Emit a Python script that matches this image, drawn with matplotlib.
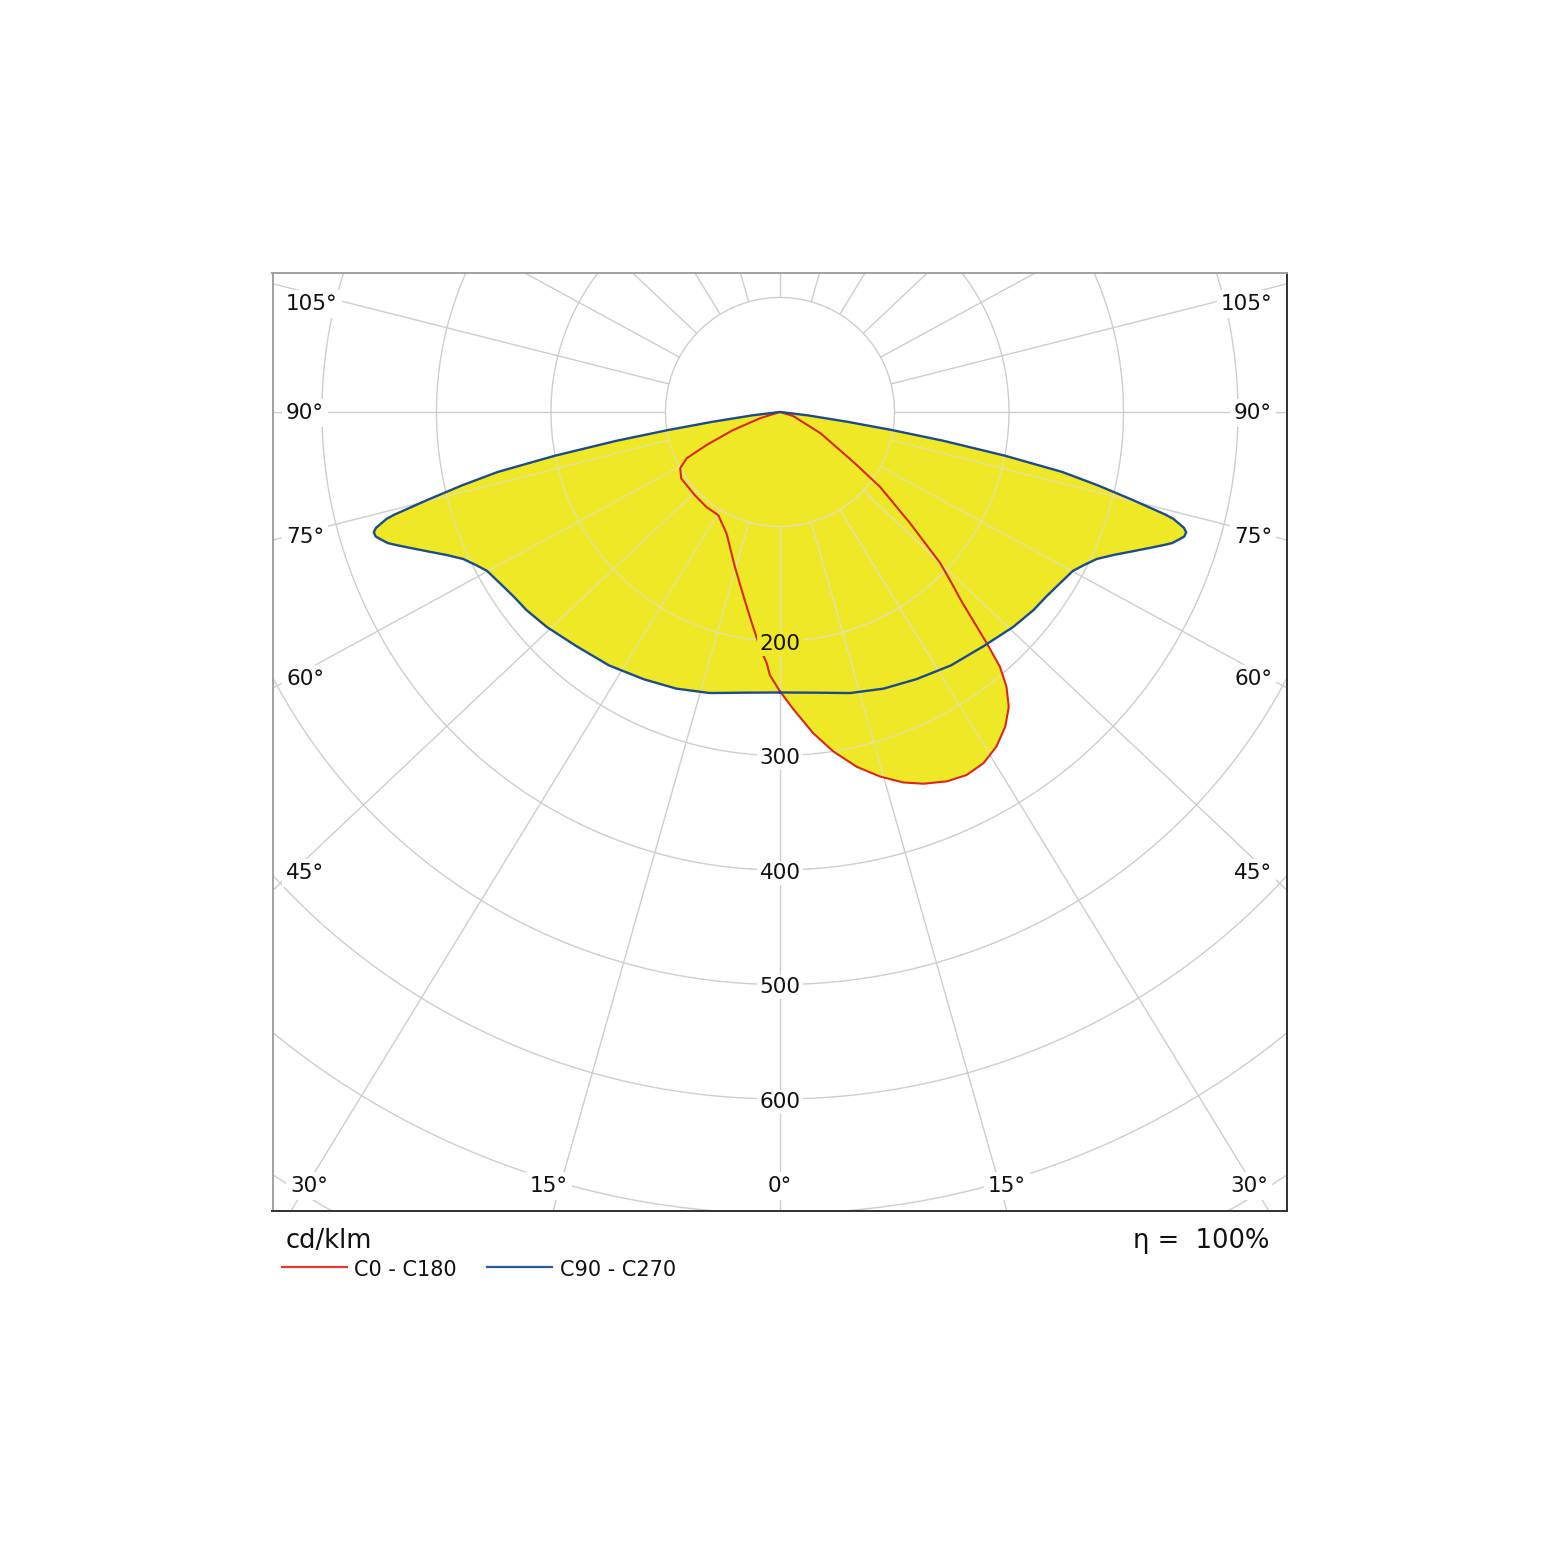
import numpy as np
import matplotlib.pyplot as plt
from matplotlib.collections import LineCollection
from matplotlib.lines import Line2D

plt.rcParams['font.family'] = ['DejaVu Sans']

# luminous intensity, cd/klm, gamma in degrees (0 = straight down)
# C90 - C270 plane (symmetric, blue)
gamma_c90 = [0, 7, 14, 20.5, 27, 34, 41, 47.3, 52, 55.3, 58, 61.5, 63.2, 65.1, 66.8,
             68.2, 69.6, 70.9, 71.5, 72.3, 72.9, 73.5, 74.0, 74.8, 75.1, 76, 77, 78,
             79, 80, 80.8, 81.7, 83, 86]
cd_c90 = [245, 247, 253, 258, 262, 267, 271, 277, 281, 283, 286, 291, 297, 305, 317,
          329, 342, 355, 361, 366, 369.5, 370, 367, 356, 348, 317, 285, 252,
          200, 145, 100, 60, 25, 0]

# C0 plane (right half of red curve)
gamma_c0 = [0, 2.6, 5.9, 8.9, 12.2, 15.3, 18.4, 21.1, 24.3, 27.2, 30.1, 32.9, 35.6,
            37.8, 39.5, 40.8, 41.8, 43.8, 45.3, 46.7, 49.5, 53.2, 55.8, 62.3, 72.9, 80]
cd_c0 = [244, 260, 282, 300, 317, 330, 341, 348, 354, 356.5, 354.5, 348, 338,
         326, 311, 294, 271, 229, 209, 192, 149, 109, 77, 40, 12, 0]

# C180 plane (left half of red curve)
gamma_c180 = [0, 2.2, 3, 4.9, 7.6, 11.2, 16.2, 23.7, 30.9, 37.7, 45.7, 56, 60.6, 63.6,
              65.8, 68.9, 72.5, 80]
cd_c180 = [244, 230, 220, 206, 186, 164, 141, 116, 105, 105, 104, 104, 100, 91,
           70, 44, 18, 0]

rings = [100, 200, 300, 400, 500, 600, 700, 800]
ring_labels = [200, 300, 400, 500, 600]
spoke_angles = list(range(0, 181, 15))

W, H = 1560, 1561
YELLOW = '#eee827'
RED = '#d8281c'
BLUE = '#1d4b8a'
FS = 15.5


def to_xy(gamma, cd, side):
    g = np.deg2rad(np.asarray(gamma, dtype=float))
    cd = np.asarray(cd, dtype=float)
    return side * cd * np.sin(g), -cd * np.cos(g)


def px(x, y):
    return x / W, 1 - y / H


fig = plt.figure(figsize=(W / 100, H / 100), dpi=100)
ax = fig.add_axes([272.5 / W, (H - 1211.3) / H, 1014.5 / W, 938 / H])
ax.set_xlim(-443.2, 442.8)
ax.set_ylim(-698.1, 121.1)
ax.set_xticks([])
ax.set_yticks([])
for s in ['top', 'left']:
    ax.spines[s].set_color('#a0a0a0')
for s in ['bottom', 'right']:
    ax.spines[s].set_color('#303030')
for s in ax.spines.values():
    s.set_linewidth(1.4)

# polar grid
segs = []
t = np.linspace(0, 2 * np.pi, 721)
for r in rings:
    segs.append(np.column_stack([r * np.cos(t), r * np.sin(t)]))
k = 1.06  # spokes in the source drawing are slightly splayed
for a in spoke_angles:
    th = np.deg2rad(a)
    phi = np.arctan2(k * np.sin(th), np.cos(th))
    sides = [1] if a in (0, 180) else [1, -1]
    for sd in sides:
        segs.append(np.array([[sd * 100 * np.sin(phi), -100 * np.cos(phi)],
                              [sd * 1400 * np.sin(phi), -1400 * np.cos(phi)]]))
ax.add_collection(LineCollection(segs, colors='#cdcdcd', linewidths=1.0, zorder=1))

# curves
xr, yr = to_xy(gamma_c90, cd_c90, 1)
xl, yl = to_xy(gamma_c90, cd_c90, -1)
xb = np.concatenate([xr, xl[::-1]])
yb = np.concatenate([yr, yl[::-1]])

xr0, yr0 = to_xy(gamma_c0, cd_c0, 1)
xl0, yl0 = to_xy(gamma_c180, cd_c180, -1)
xrd = np.concatenate([xr0, xl0[::-1]])
yrd = np.concatenate([yr0, yl0[::-1]])

polys = []
polys += ax.fill(xb, yb, color=YELLOW, lw=0, zorder=2)
polys += ax.fill(xrd, yrd, color=YELLOW, lw=0, zorder=2)
for p in polys:
    lc = LineCollection(segs, colors='#e6e19c', linewidths=1.0, zorder=3)
    ax.add_collection(lc)
    lc.set_clip_path(p)

ax.plot(xrd, yrd, color=RED, lw=1.5, zorder=4, solid_joinstyle='round')
ax.plot(xb, yb, color=BLUE, lw=1.7, zorder=4, solid_joinstyle='round')

# ring labels
for r in ring_labels:
    fc = YELLOW if r == 200 else 'white'
    ax.text(0, -r - 2.5, str(r), ha='center', va='center', fontsize=FS,
            color='#111111', zorder=6,
            bbox=dict(boxstyle='square,pad=0.1', fc=fc, ec='none'))

# angle labels
lab_box = dict(boxstyle='square,pad=0.18', fc='white', ec='none')
side_labels = [('105°', 304), ('90°', 413), ('75°', 537), ('60°', 679), ('45°', 873)]
for txt, y in side_labels:
    fig.text(*px(286, y), txt, ha='left', va='center', fontsize=FS,
             color='#111111', bbox=lab_box, zorder=6)
    fig.text(*px(1272, y), txt, ha='right', va='center', fontsize=FS,
             color='#111111', bbox=lab_box, zorder=6)
bottom_labels = [('30°', 309), ('15°', 549), ('0°', 780), ('15°', 1007), ('30°', 1249)]
for txt, x in bottom_labels:
    fig.text(*px(x, 1186), txt, ha='center', va='center', fontsize=FS,
             color='#111111', bbox=lab_box, zorder=6)

# legend and notes
fig.text(*px(286, 1241), 'cd/klm', ha='left', va='center', fontsize=18.5, color='#111111')
fig.text(*px(1269, 1241), 'η =  100%', ha='right', va='center', fontsize=18.5,
         color='#111111')
fig.add_artist(Line2D([282 / W, 347 / W], [1 - 1267 / H] * 2, color='#e03a34', lw=1.6))
fig.add_artist(Line2D([487 / W, 552 / W], [1 - 1267 / H] * 2, color='#2c5b98', lw=1.6))
fig.text(*px(354, 1270), 'C0 - C180', ha='left', va='center', fontsize=FS - 0.5,
         color='#111111')
fig.text(*px(560, 1270), 'C90 - C270', ha='left', va='center', fontsize=FS - 0.5,
         color='#111111')

fig.savefig('out.png', dpi=100, facecolor='white')
